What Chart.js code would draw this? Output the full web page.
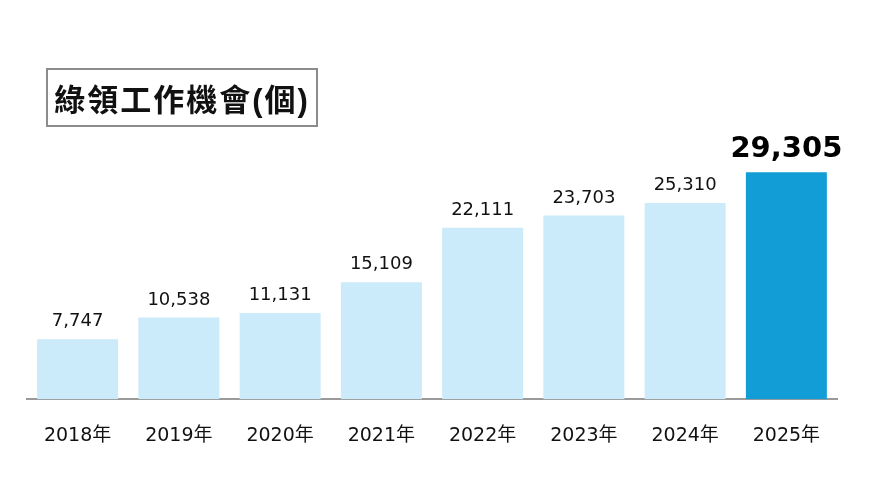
<!DOCTYPE html>
<html><head><meta charset="utf-8">
<script src="https://cdn.jsdelivr.net/npm/chart.js@4/dist/chart.umd.min.js"></script>
<style>
html,body{margin:0;padding:0;background:#fff;}
#wrap{position:relative;width:886px;height:479px;}
#title{position:absolute;left:46px;top:68px;width:272px;height:59px;border:2px solid #8c8c8c;box-sizing:border-box;
font-family:"Liberation Sans","Noto Sans CJK TC",sans-serif;font-weight:bold;font-size:31px;color:#111;
display:flex;align-items:center;justify-content:center;letter-spacing:2px;}
</style></head><body>
<div id="wrap"><canvas id="c" width="886" height="479"></canvas><div id="title">綠領工作機會(個)</div></div>
<script>
const categories = ["2018年","2019年","2020年","2021年","2022年","2023年","2024年","2025年"];
const jobs = [7747, 10538, 11131, 15109, 22111, 23703, 25310, 29305];
const highlightIndex = 7;
const lightColor = "#CCEBFA";
const darkColor = "#139DD6";

const labelPlugin = {
  id: "valueLabels",
  afterDatasetsDraw(chart) {
    const ctx = chart.ctx;
    const meta = chart.getDatasetMeta(0);
    ctx.save();
    ctx.textAlign = "center";
    ctx.textBaseline = "alphabetic";
    meta.data.forEach((bar, i) => {
      const txt = jobs[i].toLocaleString("en-US");
      if (i === highlightIndex) {
        ctx.font = "bold 29px 'DejaVu Sans', sans-serif";
        ctx.fillStyle = "#000";
        ctx.fillText(txt, bar.x, bar.y - 15);
      } else {
        ctx.font = "18px 'DejaVu Sans', sans-serif";
        ctx.fillStyle = "#111";
        ctx.fillText(txt, bar.x, bar.y - 13);
      }
    });
    ctx.restore();
  }
};

new Chart(document.getElementById("c"), {
  type: "bar",
  data: {
    labels: categories,
    datasets: [{
      data: jobs,
      backgroundColor: jobs.map((v, i) => i === highlightIndex ? darkColor : lightColor),
      borderWidth: 0,
      barPercentage: 0.8,
      categoryPercentage: 1.0
    }]
  },
  options: {
    responsive: false,
    animation: false,
    layout: { padding: { left: 27, right: 49, top: 128, bottom: 7 } },
    plugins: { legend: { display: false }, tooltip: { enabled: false } },
    scales: {
      x: {
        grid: { display: false, drawTicks: false },
        border: { display: true, color: "#9a9a9a", width: 2 },
        ticks: { color: "#111", padding: 25, font: { family: "'DejaVu Sans', 'Noto Sans CJK TC', sans-serif", size: 19 } }
      },
      y: { display: false, min: 0, max: 35000 }
    }
  },
  plugins: [labelPlugin]
});
</script>
</body></html>
